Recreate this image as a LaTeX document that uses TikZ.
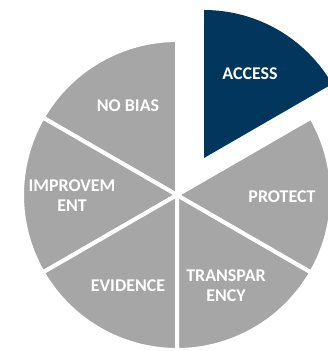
\documentclass[tikz,border=0pt]{standalone}
\usepackage{fontspec}
\setmainfont{Carlito}
\definecolor{navy}{RGB}{3,54,93}
\definecolor{piegrey}{RGB}{166,166,166}
\begin{document}
\begin{tikzpicture}[x=1bp,y=1bp,
  sector/.style={fill=piegrey, draw=white, line width=4bp, line join=round},
  hot/.style={fill=navy},
  lbl/.style={text=white, font=\bfseries\fontsize{18}{20}\selectfont, align=center, inner sep=0pt}]
\useasboundingbox (0,0) rectangle (328,351);
\coordinate (C) at (177,156);
\foreach \a in {90,150,210,270,330} {
  \path[sector] (C) -- ++(\a:155) arc[start angle=\a, delta angle=60, radius=155] -- cycle;
}
\coordinate (A) at (204,193);
\path[hot] (A) -- ++(90:148) arc[start angle=90, end angle=30, radius=148] -- cycle;
\node[lbl] (access) at (250,277.5) {ACCESS};
\node[lbl] (nobias) at (128,245) {NO BIAS};
\node[lbl] (improve) at (72,155) {IMPROVEM\\ENT};
\node[lbl] (protect) at (282,154) {PROTECT};
\node[lbl] (transp) at (226,65) {TRANSPAR\\ENCY};
\node[lbl] (evidence) at (128,65.5) {EVIDENCE};
\end{tikzpicture}
\end{document}
